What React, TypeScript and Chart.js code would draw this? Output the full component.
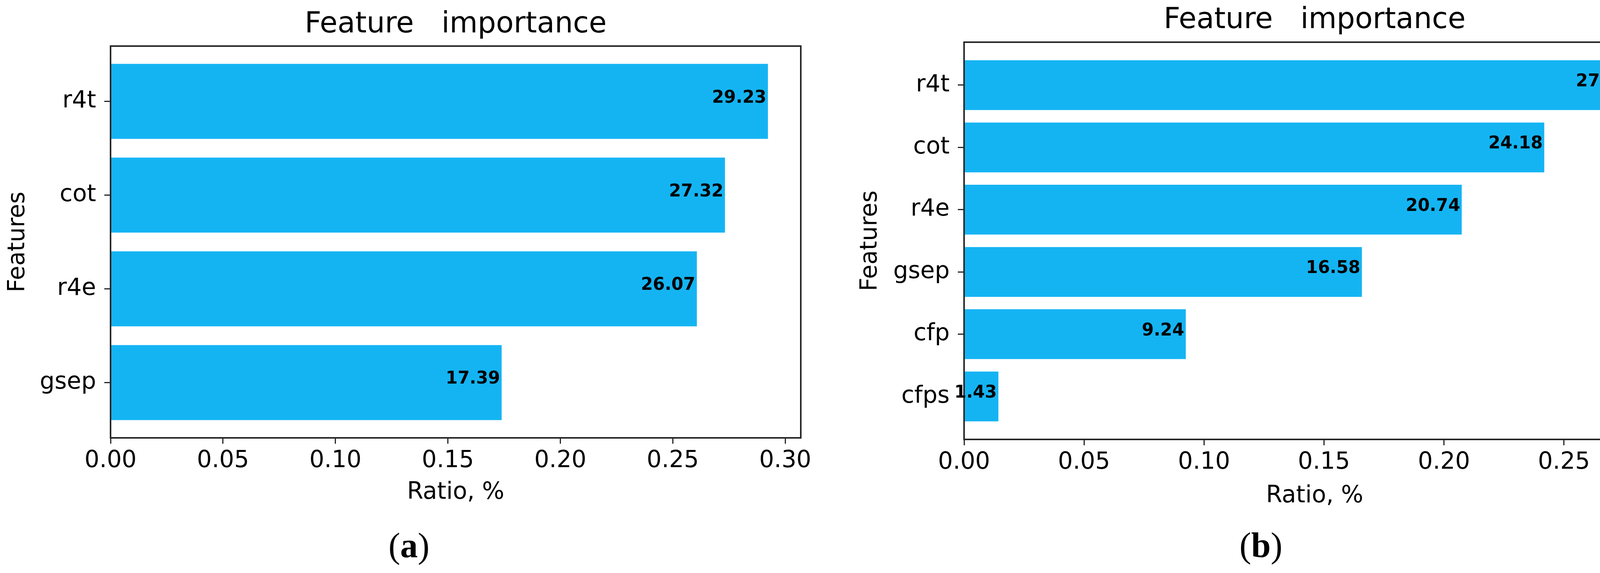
import React, { useEffect, useRef } from "react";
import { Chart, registerables } from "chart.js";

Chart.register(...registerables);

// ---------- data ----------
const categoriesA = ["r4t", "cot", "r4e", "gsep"];
const valuesA = [0.2923, 0.2732, 0.2607, 0.1739];
const valueLabelsA = ["29.23", "27.32", "26.07", "17.39"];
const xTicksA = [0, 0.05, 0.1, 0.15, 0.2, 0.25, 0.3];

const categoriesB = ["r4t", "cot", "r4e", "gsep", "cfp", "cfps"];
const valuesB = [0.2783, 0.2418, 0.2074, 0.1658, 0.0924, 0.0143];
const valueLabelsB = ["27.83", "24.18", "20.74", "16.58", "9.24", "1.43"];
const xTicksB = [0, 0.05, 0.1, 0.15, 0.2, 0.25];

const TITLE = "Feature   importance";
const X_TITLE = "Ratio, %";
const Y_TITLE = "Features";

const BAR_COLOR = "#14b4f3";
const SPINE = "#262626";
const FONT = "DejaVu Sans";

interface PanelLayout {
  left: number;
  width: number;
  height: number;
  yAxisW: number;
  padRight: number;
  padBottom: number;
  titlePadTop: number;
  titlePadBottom: number;
  yTitlePad: number;
  xAxisH: number;
}

const layoutA: PanelLayout = {
  left: 0,
  width: 2143,
  height: 1320,
  yAxisW: 283,
  padRight: 93,
  padBottom: 23,
  titlePadTop: 19.6,
  titlePadBottom: 9.6,
  yTitlePad: 10,
  xAxisH: 176,
};

const layoutB: PanelLayout = {
  left: 2143,
  width: 2142,
  height: 1320,
  yAxisW: 325,
  padRight: 22,
  padBottom: 14,
  titlePadTop: 8.6,
  titlePadBottom: 10.6,
  yTitlePad: 49,
  xAxisH: 181,
};

function makeConfig(
  categories: string[],
  values: number[],
  valueLabels: string[],
  xTicks: number[],
  L: PanelLayout
): any {
  const n = categories.length;
  const yMargin = 0.05 * (n - 1 + 0.8);
  const xMax = Math.max(...values) * 1.05;

  const framePlugin = {
    id: "frameAndLabels",
    afterDatasetsDraw(chart: any) {
      const { ctx, chartArea: a } = chart;
      ctx.save();
      ctx.strokeStyle = SPINE;
      ctx.lineWidth = 4;
      ctx.strokeRect(a.left, a.top, a.right - a.left, a.bottom - a.top);
      ctx.restore();
    },
    afterDraw(chart: any) {
      const { ctx } = chart;
      const meta = chart.getDatasetMeta(0);
      ctx.save();
      ctx.font = `bold 44px "${FONT}"`;
      ctx.fillStyle = "#000";
      ctx.textAlign = "right";
      ctx.textBaseline = "alphabetic";
      meta.data.forEach((el: any, i: number) => {
        ctx.fillText(valueLabels[i], el.x - 4, el.y + 3);
      });
      ctx.restore();
    },
  };

  return {
    type: "bar",
    data: {
      datasets: [
        {
          data: values.map((v, i) => ({ x: v, y: i })),
          backgroundColor: BAR_COLOR,
          borderWidth: 0,
          barPercentage: 0.8,
          categoryPercentage: 1,
        },
      ],
    },
    options: {
      indexAxis: "y",
      animation: false,
      responsive: false,
      devicePixelRatio: 1,
      layout: {
        padding: { left: 0, right: L.padRight, top: 0, bottom: L.padBottom },
      },
      plugins: {
        legend: { display: false },
        tooltip: { enabled: false },
        title: {
          display: true,
          fullSize: false,
          text: TITLE,
          color: "#000",
          font: { family: FONT, size: 74, weight: "normal" },
          padding: { top: L.titlePadTop, bottom: L.titlePadBottom },
        },
      },
      scales: {
        x: {
          type: "linear",
          position: "bottom",
          offset: false,
          min: 0,
          max: xMax,
          afterBuildTicks: (s: any) => {
            s.ticks = xTicks.map((v) => ({ value: v }));
          },
          afterFit: (s: any) => {
            s.height = L.xAxisH;
          },
          ticks: {
            callback: (v: any) => Number(v).toFixed(2),
            color: "#000",
            font: { family: FONT, size: 60 },
            padding: 8,
            maxRotation: 0,
            autoSkip: false,
          },
          grid: {
            offset: false,
            drawOnChartArea: false,
            drawTicks: true,
            tickLength: 15,
            color: SPINE,
            lineWidth: 3,
          },
          border: { display: false },
          title: {
            display: true,
            text: X_TITLE,
            color: "#000",
            font: { family: FONT, size: 60 },
            padding: { top: 0, bottom: 0 },
          },
        },
        y: {
          type: "linear",
          position: "left",
          offset: false,
          reverse: true,
          min: -0.4 - yMargin,
          max: n - 1 + 0.4 + yMargin,
          afterBuildTicks: (s: any) => {
            s.ticks = categories.map((_, i) => ({ value: i }));
          },
          afterFit: (s: any) => {
            s.width = L.yAxisW;
          },
          ticks: {
            callback: (v: any) => categories[Math.round(Number(v))],
            color: "#000",
            font: { family: FONT, size: 60 },
            padding: 21,
            autoSkip: false,
          },
          grid: {
            offset: false,
            drawOnChartArea: false,
            drawTicks: true,
            tickLength: 16,
            color: SPINE,
            lineWidth: 3,
          },
          border: { display: false },
          title: {
            display: true,
            text: Y_TITLE,
            color: "#000",
            font: { family: FONT, size: 60 },
            padding: { top: L.yTitlePad, bottom: 0 },
          },
        },
      },
    },
    plugins: [framePlugin],
  };
}

function Panel(props: {
  categories: string[];
  values: number[];
  valueLabels: string[];
  xTicks: number[];
  layout: PanelLayout;
}) {
  const ref = useRef<HTMLCanvasElement | null>(null);
  const { categories, values, valueLabels, xTicks, layout } = props;
  useEffect(() => {
    if (!ref.current) return;
    const chart = new Chart(
      ref.current,
      makeConfig(categories, values, valueLabels, xTicks, layout)
    );
    return () => chart.destroy();
  }, []);
  return (
    <canvas
      ref={ref}
      width={layout.width}
      height={layout.height}
      style={{
        position: "absolute",
        left: layout.left,
        top: 0,
        width: layout.width,
        height: layout.height,
      }}
    />
  );
}

function Caption(props: { cx: number; top: number; letter: string }) {
  return (
    <div
      style={{
        position: "absolute",
        left: props.cx - 200,
        top: props.top,
        width: 400,
        textAlign: "center",
        fontFamily: '"Liberation Serif", "Times New Roman", serif',
        fontSize: 90,
        lineHeight: "90px",
        color: "#000",
      }}
    >
      (<b>{props.letter}</b>)
    </div>
  );
}

export default function App() {
  return (
    <div
      style={{
        position: "absolute",
        left: 0,
        top: 0,
        width: 4285,
        height: 1467,
        background: "#fff",
        overflow: "hidden",
      }}
    >
      <Panel
        categories={categoriesA}
        values={valuesA}
        valueLabels={valueLabelsA}
        xTicks={xTicksA}
        layout={layoutA}
      />
      <Panel
        categories={categoriesB}
        values={valuesB}
        valueLabels={valueLabelsB}
        xTicks={xTicksB}
        layout={layoutB}
      />
      <Caption cx={1047} top={1352} letter="a" />
      <Caption cx={3228} top={1351} letter="b" />
    </div>
  );
}
